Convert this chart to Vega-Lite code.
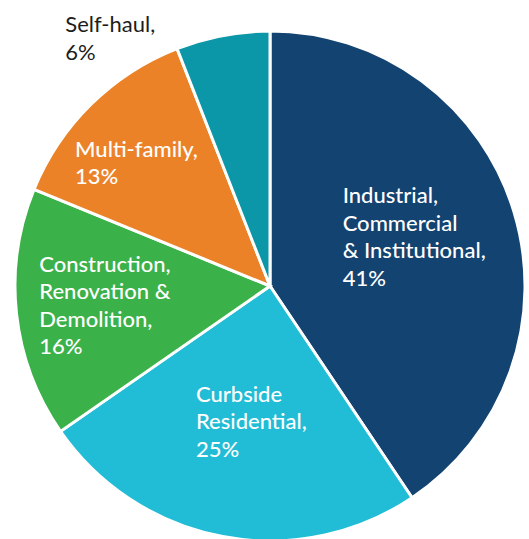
{
  "$schema": "https://vega.github.io/schema/vega-lite/v6.json",
  "autosize": "none",
  "width": 508,
  "height": 508,
  "padding": {"left": 16, "top": 32, "right": 0, "bottom": 0},
  "background": "white",
  "view": {"stroke": null},
  "config": {"text": {"font": "Lato", "fontSize": 22, "fontWeight": 500, "lineHeight": 27.5, "align": "left", "baseline": "alphabetic", "lineBreak": "\n"}},
  "data": {"values": [
    {"name": "Industrial, Commercial & Institutional", "rank": 1, "pct": 41, "label": "Industrial,\nCommercial\n& Institutional,\n41%"},
    {"name": "Curbside Residential", "rank": 2, "pct": 25, "label": "Curbside\nResidential,\n25%"},
    {"name": "Construction, Renovation & Demolition", "rank": 3, "pct": 16, "label": "Construction,\nRenovation &\nDemolition,\n16%"},
    {"name": "Multi-family", "rank": 4, "pct": 13, "label": "Multi-family,\n13%"},
    {"name": "Self-haul", "rank": 5, "pct": 6, "label": "Self-haul,\n6%"}
  ]},
  "encoding": {
    "theta": {"field": "pct", "type": "quantitative", "stack": true},
    "order": {"field": "rank", "type": "quantitative"},
    "detail": {"field": "name", "type": "nominal"}
  },
  "layer": [
    {
      "mark": {"type": "arc", "outerRadius": 255, "stroke": "white", "strokeWidth": 3},
      "encoding": {
        "color": {"field": "name", "type": "nominal", "legend": null,
          "scale": {"domain": ["Industrial, Commercial & Institutional", "Curbside Residential", "Construction, Renovation & Demolition", "Multi-family", "Self-haul"],
                    "range": ["#134370", "#21bcd5", "#3bb14a", "#ec8227", "#0c97a8"]}}
      }
    },
    {
      "mark": {"type": "text", "radius": 155, "dx": -75.6, "dy": -37.5, "color": "white"},
      "encoding": {"text": {"condition": {"test": "datum.rank === 1", "field": "label"}, "value": ""}}
    },
    {
      "mark": {"type": "text", "radius": 135, "dx": -49, "dy": -16.9, "color": "white"},
      "encoding": {"text": {"condition": {"test": "datum.rank === 2", "field": "label"}, "value": ""}}
    },
    {
      "mark": {"type": "text", "radius": 167, "dx": -64.7, "dy": -32.5, "color": "white"},
      "encoding": {"text": {"condition": {"test": "datum.rank === 3", "field": "label"}, "value": ""}}
    },
    {
      "mark": {"type": "text", "radius": 182, "dx": -67.3, "dy": 0.4, "color": "white"},
      "encoding": {"text": {"condition": {"test": "datum.rank === 4", "field": "label"}, "value": ""}}
    },
    {
      "mark": {"type": "text", "radius": 290, "dx": -150.9, "dy": 31.3, "color": "#1d1d1b", "fontWeight": 400},
      "encoding": {"text": {"condition": {"test": "datum.rank === 5", "field": "label"}, "value": ""}}
    }
  ]
}
